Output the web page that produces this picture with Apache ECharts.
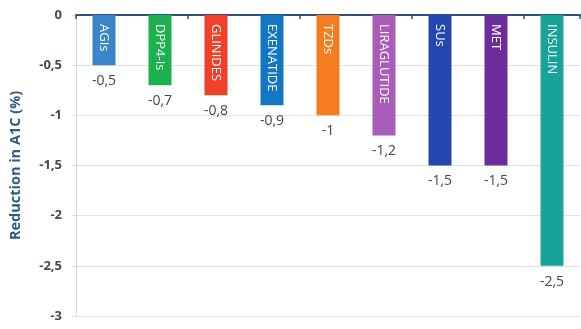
<!DOCTYPE html>
<html>
<head>
<meta charset="utf-8">
<script src="https://cdn.jsdelivr.net/npm/echarts@6/dist/echarts.min.js"></script>
<style>
html,body{margin:0;padding:0;background:#fff;}
#chart{width:581px;height:329px;}
</style>
</head>
<body>
<div id="chart"></div>
<script>
const categories = ['AGIs','DPP4-Is','GLINIDES','EXENATIDE','TZDs','LIRAGLUTIDE','SUs','MET','INSULIN'];
const values = [-0.5,-0.7,-0.8,-0.9,-1,-1.2,-1.5,-1.5,-2.5];
const barColors = ['#3A86C8','#1DB04E','#F0402A','#1577C4','#F57C20','#A95CB8','#2347AE','#6C2E9C','#18A398'];
const yTicks = { min: -3, max: 0, interval: 0.5 };

const fmt = v => String(v).replace('.', ',');

const chart = echarts.init(document.getElementById('chart'), null, {renderer:'canvas'});
chart.setOption({
  animation: false,
  backgroundColor: '#ffffff',
  grid: { left: 67, right: 1, top: 15, bottom: 13, containLabel: false },
  xAxis: {
    type: 'category',
    data: categories,
    axisLine: { onZero: true, lineStyle: { color: '#2F4F7F', width: 2 } },
    axisTick: { show: true, length: 4, lineStyle: { color: '#2F4F7F', width: 1.5 } },
    axisLabel: { show: false },
    splitLine: { show: false }
  },
  yAxis: {
    type: 'value',
    min: yTicks.min, max: yTicks.max, interval: yTicks.interval,
    name: 'Reduction in A1C (%)',
    nameLocation: 'middle',
    nameGap: 53,
    nameTextStyle: { color: '#2E5A87', fontWeight: 'bold', fontSize: 14.5, fontFamily: 'Open Sans' },
    axisLine: { show: true, lineStyle: { color: '#D9D9D9' } },
    axisTick: { show: true, length: 4, lineStyle: { color: '#D9D9D9' } },
    axisLabel: { formatter: fmt, color: '#404A55', fontWeight: 'bold', fontSize: 13, margin: 14, fontFamily: 'Open Sans' },
    splitLine: { show: true, lineStyle: { color: '#E2E2E2' } }
  },
  series: [
    {
      type: 'bar',
      barWidth: 23,
      data: values.map((v, i) => ({ value: v, itemStyle: { color: barColors[i] } })),
      label: {
        show: true,
        position: 'insideTop',
        distance: 9,
        rotate: -90,
        align: 'left',
        verticalAlign: 'middle',
        color: '#ffffff',
        fontSize: 13,
        fontFamily: 'Open Sans',
        formatter: p => categories[p.dataIndex]
      }
    },
    {
      type: 'bar',
      barWidth: 23,
      barGap: '-100%',
      data: values,
      itemStyle: { color: 'rgba(0,0,0,0)' },
      silent: true,
      label: {
        show: true,
        position: 'bottom',
        distance: 9,
        color: '#3F4650',
        fontSize: 14,
        fontFamily: 'Open Sans',
        formatter: p => fmt(p.value)
      }
    }
  ]
});
</script>
</body>
</html>
